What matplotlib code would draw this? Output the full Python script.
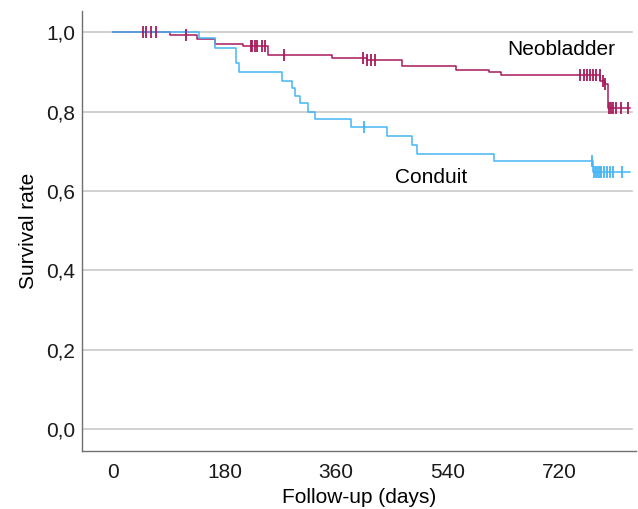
import matplotlib
matplotlib.use("Agg")
import matplotlib.pyplot as plt
import numpy as np

plt.rcParams['font.family'] = ['Liberation Sans', 'DejaVu Sans']

# Neobladder: event times (days) and survival after each step
neo_times = [0, 92, 135, 165, 210, 250, 353, 410, 466, 553, 607, 626, 786, 794, 799]
neo_surv = [1.0, 0.994, 0.983, 0.971, 0.965, 0.943, 0.935, 0.929, 0.915, 0.906, 0.901, 0.893, 0.877, 0.870, 0.808]
neo_end = 834
neo_cens_t = [49, 54, 61, 70, 118, 222, 225, 229, 232, 240, 245, 276, 404, 410, 416, 423,
              754, 760, 765, 770, 775, 780, 785, 790, 794, 800, 803, 806, 812, 820, 831]

# Conduit
con_times = [0, 139, 165, 199, 203, 273, 289, 294, 302, 315, 326, 384, 442, 482, 490, 615, 775]
con_surv = [1.0, 0.986, 0.960, 0.922, 0.899, 0.878, 0.859, 0.840, 0.821, 0.800, 0.781, 0.760,
            0.738, 0.715, 0.694, 0.675, 0.648]
con_end = 834
con_cens_t = [405, 773, 776, 779, 782, 785, 788, 792, 797, 802, 807, 821]

neo_color = '#A81A5C'
con_color = '#45B5F3'

def surv_at(times, surv, t):
    idx = np.searchsorted(times, t, side='right') - 1
    return surv[idx]

fig = plt.figure(figsize=(6.38, 5.09), dpi=100)
ax = fig.add_axes([0.1285, 0.114, 0.8685, 0.864])

for times, surv, end, cens, col in [
        (neo_times, neo_surv, neo_end, neo_cens_t, neo_color),
        (con_times, con_surv, con_end, con_cens_t, con_color)]:
    t = list(times) + [end]
    s = list(surv) + [surv[-1]]
    ax.step(t, s, where='post', color=col, lw=1.1, zorder=3)
    cy = [surv_at(times, surv, c) for c in cens]
    ax.plot(cens, cy, linestyle='none', marker='|', markersize=8, markeredgewidth=1.3,
            color=col, zorder=4)

yticks = [0.0, 0.2, 0.4, 0.6, 0.8, 1.0]
xticks = [0, 180, 360, 540, 720]
for yv in yticks:
    ax.axhline(yv, xmin=0, xmax=0.993, color='#C8C8C8', lw=1.2, zorder=1)

ax.set_xlim(-50, 844)
ax.set_ylim(-0.055, 1.053)
ax.set_yticks(yticks)
ax.set_yticklabels([f"{v:.1f}".replace('.', ',') for v in yticks])
ax.set_xticks(xticks)
ax.set_xticklabels([str(v) for v in xticks])
ax.tick_params(axis='both', length=0, labelsize=15, colors='#1a1a1a', pad=5)
ax.tick_params(axis='x', pad=9)

for sp in ['top', 'right']:
    ax.spines[sp].set_visible(False)
for sp in ['left', 'bottom']:
    ax.spines[sp].set_color('#707070')
    ax.spines[sp].set_linewidth(1.0)

ax.set_xlabel('Follow-up (days)', fontsize=15, labelpad=4)
ax.set_ylabel('Survival rate', fontsize=15, labelpad=6)

ax.text(723, 0.957, 'Neobladder', fontsize=15, ha='center', va='center')
ax.text(513, 0.635, 'Conduit', fontsize=15, ha='center', va='center')

fig.savefig('out.png', dpi=100)
